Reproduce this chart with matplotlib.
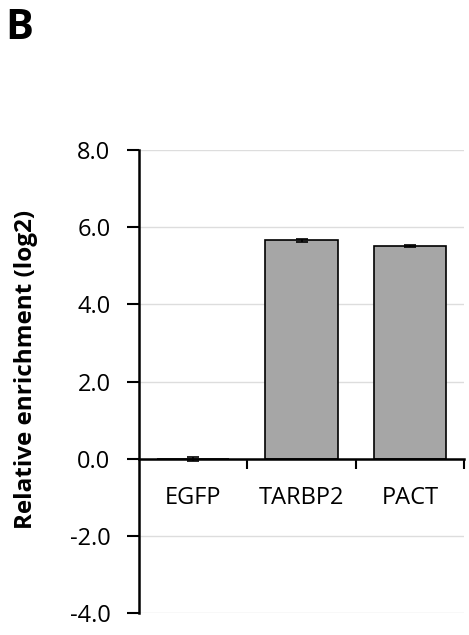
import matplotlib
matplotlib.use("Agg")
import matplotlib.pyplot as plt
from matplotlib.ticker import FixedLocator, NullFormatter

# -----------------------------------------------------------------------------
# Data
# -----------------------------------------------------------------------------

categories = ["EGFP", "TARBP2", "PACT"]
values     = [-0.01, 5.66, 5.51]
errors     = [0.05, 0.04, 0.02]
y_ticks    = [-4.0, -2.0, 0.0, 2.0, 4.0, 6.0, 8.0]

# -----------------------------------------------------------------------------
# Chart
# -----------------------------------------------------------------------------

plt.rcParams["font.family"] = ["Open Sans", "DejaVu Sans"]

fig = plt.figure(figsize=(4.69, 6.35), dpi=100)
ax = fig.add_axes([0.2964, 0.0346, 0.693, 0.7292])

x = list(range(len(categories)))
ax.bar(x, values, width=0.67, color="#A6A6A6", edgecolor="black",
       linewidth=1.2, zorder=2)
ax.errorbar(x, values, yerr=errors, fmt="none", ecolor="black",
            elinewidth=1.2, capsize=4.5, capthick=1.2, zorder=4)

ax.set_xlim(-0.5, len(categories) - 0.5)
ax.set_ylim(y_ticks[0], y_ticks[-1])
ax.set_yticks(y_ticks)
ax.set_yticklabels([f"{t:.1f}" for t in y_ticks])
ax.yaxis.grid(True, color="#DDDDDD", linewidth=1.0, zorder=0)
ax.set_axisbelow(True)

ax.set_xticks(x)
ax.set_xticklabels(categories)
ax.xaxis.set_minor_locator(FixedLocator([0.5, 1.5, 2.5]))
ax.xaxis.set_minor_formatter(NullFormatter())

ax.tick_params(axis="x", which="major", length=0, pad=20, labelsize=17)
ax.tick_params(axis="x", which="minor", length=7.5, width=1.5, direction="out")
ax.tick_params(axis="y", length=8.5, width=1.5, pad=12, labelsize=17)

for side in ["top", "right"]:
    ax.spines[side].set_visible(False)
ax.spines["bottom"].set_position(("data", 0))
ax.spines["bottom"].set_linewidth(1.8)
ax.spines["bottom"].set_zorder(3)
ax.spines["left"].set_linewidth(1.8)

ax.set_ylabel("Relative enrichment (log2)", fontsize=17.5, fontweight="bold")
ax.yaxis.set_label_coords(-0.31, 0.527)

fig.text(0.012, 0.988, "B", fontsize=30, fontweight="bold", va="top", ha="left")

fig.savefig("out.png", dpi=100)
plt.close(fig)
